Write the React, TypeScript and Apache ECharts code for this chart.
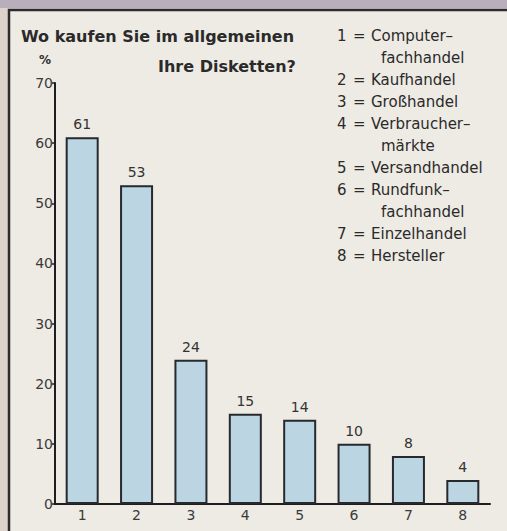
import React, { useEffect, useRef } from "react";
import * as echarts from "echarts";

const categories = ["1", "2", "3", "4", "5", "6", "7", "8"];
const values = [61, 53, 24, 15, 14, 10, 8, 4];
const legendNames = [
  "Computer–\nfachhandel",
  "Kaufhandel",
  "Großhandel",
  "Verbraucher–\nmärkte",
  "Versandhandel",
  "Rundfunk–\nfachhandel",
  "Einzelhandel",
  "Hersteller",
];
const titleLines = ["Wo kaufen Sie im allgemeinen", "Ihre Disketten?"];
const yUnit = "%";

const FONT = "DejaVu Sans";
const INK = "#2a2a2a";

export default function App() {
  const ref = useRef<HTMLDivElement>(null);
  useEffect(() => {
    if (!ref.current) return;
    const chart = echarts.init(ref.current, undefined, { renderer: "svg" });

    const legendEls: any[] = [];
    let line = 0;
    const y0 = 37;
    const step = 22;
    const lf = `15px '${FONT}'`;
    legendNames.forEach((name, i) => {
      const parts = name.split("\n");
      const y = y0 + line * step;
      legendEls.push({
        type: "text",
        left: 337,
        top: y - 9,
        style: { text: String(i + 1), font: lf, fill: INK },
      });
      legendEls.push({
        type: "text",
        left: 353,
        top: y - 9,
        style: { text: "=", font: lf, fill: INK },
      });
      parts.forEach((p, k) => {
        legendEls.push({
          type: "text",
          left: k === 0 ? 371 : 381,
          top: y0 + (line + k) * step - 9,
          style: { text: p, font: lf, fill: INK },
        });
      });
      line += parts.length;
    });

    chart.setOption({
      animation: false,
      backgroundColor: "#dcd3cc",
      graphic: [
        {
          type: "rect",
          shape: { x: 0, y: 0, width: 507, height: 8 },
          style: { fill: "#b9aebb" },
          silent: true,
          z: -10,
        },
        {
          type: "rect",
          shape: { x: 9, y: 10, width: 510, height: 530 },
          style: { fill: "#eeeae4", stroke: "#2e2a30", lineWidth: 2.5 },
          silent: true,
          z: -10,
        },
        {
          type: "text",
          left: 21,
          top: 28,
          style: { text: titleLines[0], font: `bold 16px '${FONT}'`, fill: INK },
        },
        {
          type: "text",
          left: 158,
          top: 58,
          style: { text: titleLines[1], font: `bold 16px '${FONT}'`, fill: INK },
        },
        {
          type: "text",
          left: 39,
          top: 54,
          style: { text: yUnit, font: `bold 12px '${FONT}'`, fill: INK },
        },
        ...legendEls,
      ],
      grid: { left: 55, right: 17, top: 83, bottom: 27 },
      xAxis: {
        type: "category",
        data: categories,
        axisLine: { lineStyle: { color: "#1e1e1e", width: 2 } },
        axisTick: { alignWithLabel: true, length: 5, lineStyle: { color: "#1e1e1e", width: 1.5 } },
        axisLabel: { color: "#3a3a3a", fontSize: 14, fontFamily: FONT, margin: 4 },
      },
      yAxis: {
        type: "value",
        min: 0,
        max: 70,
        interval: 10,
        splitLine: { show: false },
        axisLine: { show: true, lineStyle: { color: "#1e1e1e", width: 2 } },
        axisTick: { show: true, length: 3, lineStyle: { color: "#1e1e1e", width: 1.5 } },
        axisLabel: { color: "#3a3a3a", fontSize: 14, fontFamily: FONT, margin: 2 },
      },
      series: [
        {
          type: "bar",
          data: values,
          barWidth: 33,
          itemStyle: { color: "#bcd5e3", borderColor: "#262a2e", borderWidth: 2 },
          label: {
            show: true,
            position: "top",
            distance: 6,
            color: "#333",
            fontSize: 14,
            fontFamily: FONT,
          },
        },
      ],
    });
    return () => chart.dispose();
  }, []);
  return (
    <div
      ref={ref}
      style={{ position: "absolute", left: 0, top: 0, width: 507, height: 531 }}
    />
  );
}
